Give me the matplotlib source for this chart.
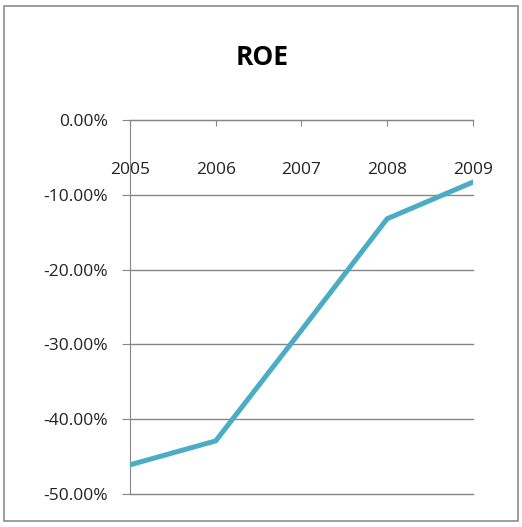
import matplotlib.pyplot as plt
from matplotlib.patches import Rectangle
from matplotlib.ticker import PercentFormatter

years = ['2005', '2006', '2007', '2008', '2009']
roe = [-0.461, -0.429, -0.281, -0.132, -0.083]
y_ticks = [0.0, -0.1, -0.2, -0.3, -0.4, -0.5]

plt.rcParams['font.family'] = ['Open Sans', 'DejaVu Sans']
plt.rcParams['axes.unicode_minus'] = False

fig = plt.figure(figsize=(5.22, 5.27), dpi=100)
ax = fig.add_axes([0.249, 0.0626, 0.657, 0.7097])

x = range(len(years))
ax.plot(x, roe, color='#4BACC6', lw=3.6, solid_joinstyle='miter', zorder=3)

ax.set_xlim(0, len(years) - 1)
ax.set_ylim(-0.5, 0)
ax.set_xticks(list(x))
ax.set_xticklabels(years)
ax.set_yticks(y_ticks)
ax.yaxis.set_major_formatter(PercentFormatter(1.0, decimals=2))

ax.grid(axis='y', color='#868686', lw=1)
for gl in ax.get_ygridlines():
    gl.set_clip_on(False)
for s in ['top', 'right']:
    ax.spines[s].set_visible(False)
ax.spines['bottom'].set_position(('data', 0))
ax.spines['bottom'].set_color('#868686')
ax.spines['left'].set_color('#868686')

ax.tick_params(axis='x', direction='out', length=4, color='#868686',
               pad=26, labelsize=12.5, labelcolor='#222222')
ax.tick_params(axis='y', direction='out', length=6, color='#868686',
               pad=10, labelsize=12.5, labelcolor='#222222')

fig.text(0.502, 0.89, 'ROE', ha='center', va='center', fontsize=19,
         fontweight='bold', color='black')

fig.patches.append(Rectangle((4 / 522, 6 / 527), 514 / 522, 515 / 527,
                             transform=fig.transFigure, fill=False,
                             ec='#8c8c8c', lw=1.2))

fig.savefig('out.png', dpi=100)
